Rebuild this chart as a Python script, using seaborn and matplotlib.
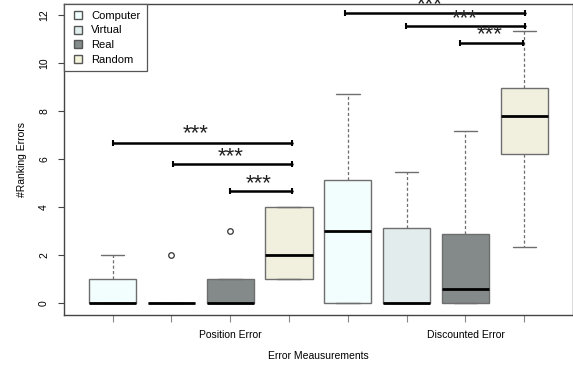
import numpy as np
import pandas as pd
import matplotlib
matplotlib.use('Agg')
import matplotlib.pyplot as plt
import seaborn as sns
from matplotlib.lines import Line2D

measures = ['Position Error', 'Discounted Error']
methods = ['Computer', 'Virtual', 'Real', 'Random']
colors = ['#F0FFFF', '#E0EEEE', '#838B8B', '#F4F3DC']

# values (whisker ends, quartiles, median, outliers)
pos_computer = [0, 0, 0, 1, 2]
pos_virtual = [0, 0, 0, 0, 0, 2]
pos_real = [0, 0, 0, 0, 1, 1, 3]
pos_random = [1, 1, 2, 4, 4]
disc_computer = [0, 0, 3.01, 5.12, 8.72]
disc_virtual = [0, 0, 0, 3.14, 5.46]
disc_real = [0, 0, 0.58, 2.88, 7.17]
disc_random = [2.33, 6.2, 7.82, 8.97, 11.33]

# significance bars: left, right, height, star x, star y
sig_left = [0, 1.02, 2.0, 3.95, 4.99, 5.91]
sig_right = [3.05, 3.05, 3.05, 7.02, 7.02, 6.98]
sig_y = [6.67, 5.79, 4.69, 12.1, 11.56, 10.85]
star_x = [1.41, 2.0, 2.49, 5.39, 5.98, 6.41]
star_y = [7.05, 6.1, 4.97, 12.45, 11.87, 11.18]

groups = [pos_computer, pos_virtual, pos_real, pos_random,
          disc_computer, disc_virtual, disc_real, disc_random]
rows = []
for i, g in enumerate(groups):
    for v in g:
        rows.append({'slot': i, 'method': methods[i % 4], 'value': v})
df = pd.DataFrame(rows)

sns.set_style('white')
plt.rcParams['font.family'] = ['Liberation Sans', 'DejaVu Sans']
plt.rcParams['text.color'] = 'black'
plt.rcParams['axes.labelcolor'] = 'black'
plt.rcParams['xtick.color'] = 'black'
plt.rcParams['ytick.color'] = 'black'

fig = plt.figure(figsize=(5.73, 3.71), dpi=100)
ax = fig.add_axes([0.1122, 0.151, 0.887, 0.838])

sns.boxplot(data=df, x='slot', y='value', hue='method', hue_order=methods,
            palette=colors, dodge=False, width=0.8, whis=1.5, legend=False,
            linecolor='#6e6e6e', linewidth=1.0,
            whiskerprops=dict(linestyle=(0, (2.5, 1.8)), color='#6e6e6e', linewidth=0.9),
            capprops=dict(color='#6e6e6e', linewidth=1.0),
            medianprops=dict(color='black', linewidth=2.0),
            flierprops=dict(marker='o', markersize=4, markerfacecolor='none',
                            markeredgecolor='#333333', markeredgewidth=0.9),
            ax=ax)

# caps at half the box width, like R
for line in ax.lines:
    xd = line.get_xdata()
    yd = line.get_ydata()
    if len(xd) == 2 and yd[0] == yd[1] and 0.5 < abs(xd[1] - xd[0]) < 0.7:
        c = (xd[0] + xd[1]) / 2
        line.set_xdata([c - 0.2, c + 0.2])

for l, r, y in zip(sig_left, sig_right, sig_y):
    ax.plot([l, r], [y, y], color='black', lw=1.8, clip_on=False,
            marker='|', markersize=4, markeredgewidth=1.5)
for x, y in zip(star_x, star_y):
    ax.text(x, y, '***', ha='center', va='center', fontsize=16,
            clip_on=False, color='#222222')

ax.set_xlim(-0.82, 7.82)
ax.set_ylim(-0.49, 12.47)
ax.set_yticks([0, 2, 4, 6, 8, 10, 12])
ax.set_yticklabels(['0', '2', '4', '6', '8', '10', '12'], rotation=90, va='center', fontsize=7.5)
ax.set_xticks(range(8))
ax.set_xticklabels(['', '', 'Position Error', '', '', '', 'Discounted Error', ''], fontsize=7.5)
ax.tick_params(axis='x', length=5, color='#888888', pad=6, direction='out', bottom=True)
ax.tick_params(axis='y', length=4.5, color='#444444', pad=6.5, direction='out', left=True)
for s in ax.spines.values():
    s.set_color('#444444')
    s.set_linewidth(1.0)

ax.set_xlabel('Error Meausurements', fontsize=7.5, labelpad=8)
ax.set_ylabel('#Ranking Errors', fontsize=7.5, labelpad=9)

handles = [Line2D([], [], marker='s', ls='', markerfacecolor=c,
                  markeredgecolor='#555555', markersize=6) for c in colors]
leg = ax.legend(handles, methods, loc='upper left', borderaxespad=0,
                fancybox=False, edgecolor='#555555', fontsize=8,
                handlelength=1.2, handletextpad=0.6, labelspacing=0.42,
                borderpad=0.6, framealpha=1)
leg.get_frame().set_linewidth(0.9)

fig.savefig('out.png', dpi=100)
